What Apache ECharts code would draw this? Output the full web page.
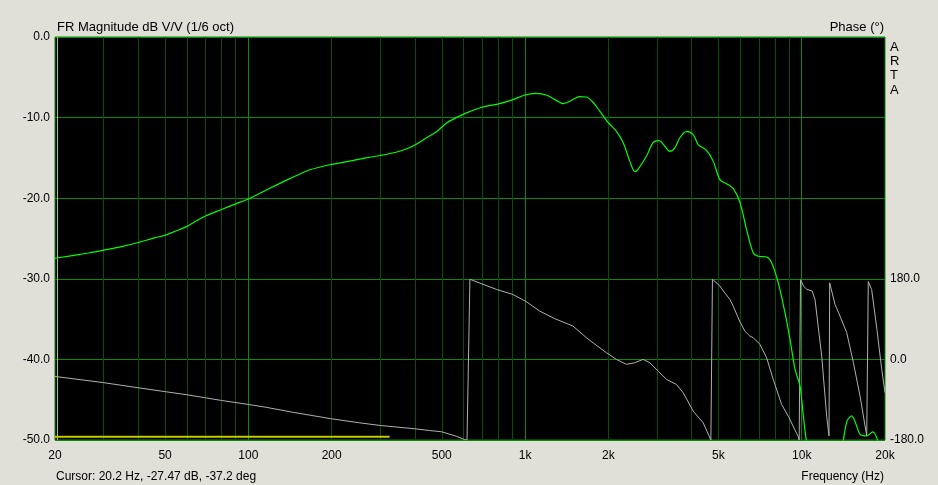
<!DOCTYPE html>
<html>
<head>
<meta charset="utf-8">
<script src="https://cdn.jsdelivr.net/npm/echarts@6/dist/echarts.min.js"></script>
<style>
html,body{margin:0;padding:0;background:#e0dfd8;}
#chart{width:938px;height:485px;}
</style>
</head>
<body>
<div id="chart"></div>
<script>
// ---- data ----
const tickLabelFreqs = [20, 50, 100, 200, 500, 1000, 2000, 5000, 10000, 20000];
const majorGridFreqs = [100, 1000, 10000];
const minorGridFreqs = [30, 40, 50, 60, 70, 80, 90, 200, 300, 400, 500, 600, 700, 800, 900,
                        2000, 3000, 4000, 5000, 6000, 7000, 8000, 9000];
const phaseTickLabels = [-180, 0, 180];

const magFreq = [20, 26.4, 30, 34.8, 40, 46, 50, 54.4, 60, 64.2, 70, 80, 90, 100, 119, 140.6, 166, 200,
  232, 266, 300, 342, 372, 400, 440, 477, 519, 564, 621, 704, 809, 904, 999, 1092, 1194, 1297, 1371,
  1444, 1576, 1666, 1761, 1862, 1996, 2139, 2262, 2391, 2493, 2555, 2746, 2903, 3053, 3201, 3337,
  3479, 3627, 3834, 4053, 4226, 4528, 4787, 5061, 5350, 5656, 5978, 6319, 6681, 6966, 7465, 7783,
  8228, 8699, 9070, 9457, 9858, 10135, 10500, 11500, 12500, 13500, 14140, 14600, 15158, 15700, 16250,
  17180, 18054, 18900, 19500, 20000];
const magDb = [-27.45, -26.8, -26.45, -26.0, -25.5, -24.9, -24.6, -24.1, -23.5, -22.9, -22.2, -21.4,
  -20.7, -20.1, -18.8, -17.6, -16.5, -15.8, -15.4, -15.0, -14.7, -14.3, -13.9, -13.4, -12.5, -11.8,
  -10.7, -10.0, -9.35, -8.68, -8.27, -7.77, -7.2, -6.99, -7.2, -7.86, -8.27, -8.02, -7.4, -7.44,
  -8.1, -9.2, -10.6, -11.7, -13.1, -15.4, -16.7, -16.45, -14.8, -13.1, -12.86, -13.56, -14.2,
  -13.76, -12.5, -11.7, -12.1, -13.35, -14.06, -15.4, -17.7, -18.2, -18.8, -20.5, -23.9, -26.8,
  -27.2, -27.3, -28.0, -30.5, -34.2, -37.5, -41.2, -43.3, -47.0, -51, -56, -58, -54, -50, -47.6,
  -47.0, -48.0, -49.3, -49.5, -49.0, -50.3, -53, -55];

const phaseFreq = [20, 30, 40, 50, 60, 70, 80, 100, 115, 144.5, 200, 252, 300, 400, 452, 500, 564, 604,
  617, 632, 704, 787, 904, 1010, 1129, 1280, 1490, 1666, 1761, 1968, 2139, 2325, 2493, 2671, 2823,
  3027, 3246, 3527, 3729, 4053, 4404, 4695,
  4757, 5061, 5204, 5500, 5656, 5978, 6233, 6497, 6681, 7065, 7465, 7893, 8460, 8945, 9723, 9790,
  9900, 10150, 10420, 10900, 11170, 11810, 12310, 12550, 12620, 13190, 13600, 14540, 15370, 16250,
  17180, 17400, 17900, 18700, 19460, 20000];
const phaseDeg = [-38, -52, -63.4, -72, -79, -85.8, -91.7, -100.6, -106.6, -118, -132.7, -141.6,
  -147.6, -155, -158.8, -161.7, -171.5, -179, -180, 179, 167.7, 156.5, 145, 129, 108, 91, 74.5,
  48.5, 37, 15, 0, -11, -7.4, 0, -7.4, -26, -44.7, -56, -74.5, -115.6, -141.6, -180,
  179, 164, 153, 134, 119, 84, 63, 52, 48.5, 33.5, 4, -45,
  -100.6, -127, -173, -180, 178, 164, 156.5, 153, 134, 7.4, -127, -171, 171, 123, 104, 60, -7, -82,
  -171, 174, 156, 67, -22, -74.5];

const traceFreq = [20, 324];
const traceDb = [-49.6, -49.6];
const cursorFreq = 20.2;

// ---- helpers ----
const L = v => Math.log10(v);
const toPts = (fs, vs) => fs.map((f, i) => [L(f), vs[i]]);
const fmtFreq = v => {
  const f = Math.round(Math.pow(10, v));
  return f >= 1000 ? (f / 1000) + 'k' : String(f);
};

const FONT = 'Liberation Sans, Arial, sans-serif';
const chart = echarts.init(document.getElementById('chart'), null, {renderer: 'canvas'});

const txt = (size) => ({fontSize: size, fontWeight: 'normal', color: '#000', fontFamily: FONT});

chart.setOption({
  animation: false,
  backgroundColor: '#e0dfd8',
  textStyle: {fontFamily: FONT},
  title: [
    {text: 'FR Magnitude dB V/V (1/6 oct)', left: 57, top: 21, padding: 0, textStyle: txt(13)},
    {text: 'Phase (°)', right: 54, top: 21, padding: 0, textStyle: txt(13)},
    {text: 'Cursor: 20.2 Hz, -27.47 dB, -37.2 deg', left: 56, top: 471, padding: 0, textStyle: txt(12)},
    {text: 'Frequency (Hz)', right: 54, top: 471, padding: 0, textStyle: txt(12)}
  ],
  graphic: [
    {type: 'text', left: 890, top: 40,
     style: {text: 'A\nR\nT\nA', font: '13px ' + FONT, fill: '#000', lineHeight: 14.3}}
  ],
  grid: {left: 55, right: 53, top: 37, bottom: 45, show: true,
         backgroundColor: '#000', borderColor: '#0a8a0a', borderWidth: 1},
  xAxis: [
    {type: 'value', min: L(20), max: L(20000), position: 'bottom',
     axisLine: {show: false},
     axisTick: {show: false, customValues: majorGridFreqs.map(L)},
     axisLabel: {customValues: tickLabelFreqs.map(L), formatter: fmtFreq, color: '#000',
                 fontSize: 12, margin: 10, fontFamily: FONT},
     splitLine: {show: true, lineStyle: {color: '#0a8a0a', width: 1}}},
    {type: 'value', min: L(20), max: L(20000), position: 'bottom',
     axisLine: {show: false},
     axisTick: {show: false, customValues: minorGridFreqs.map(L)},
     axisLabel: {show: false},
     splitLine: {show: true, lineStyle: {color: '#064d06', width: 1}}}
  ],
  yAxis: [
    {type: 'value', min: -50, max: 0, interval: 10, position: 'left',
     axisLine: {show: false}, axisTick: {show: false},
     axisLabel: {formatter: v => v.toFixed(1), color: '#000', fontSize: 12, margin: 5, fontFamily: FONT},
     splitLine: {show: true, lineStyle: {color: '#0a8a0a', width: 1}}},
    {type: 'value', min: -180, max: 720, interval: 180, position: 'right',
     axisLine: {show: false}, axisTick: {show: false},
     axisLabel: {customValues: phaseTickLabels, formatter: v => v.toFixed(1), color: '#000',
                 fontSize: 12, margin: 5, fontFamily: FONT},
     splitLine: {show: false}}
  ],
  series: [
    {type: 'line', name: 'trace', xAxisIndex: 0, yAxisIndex: 0, data: toPts(traceFreq, traceDb),
     showSymbol: false, symbol: 'none', lineStyle: {color: '#c8c800', width: 2}, z: 3,
     markLine: {silent: true, symbol: ['none', 'none'], label: {show: false},
                lineStyle: {color: '#c8c800', width: 1, type: 'solid'},
                data: [{xAxis: L(cursorFreq)}]}},
    {type: 'line', name: 'phase', xAxisIndex: 0, yAxisIndex: 1, data: toPts(phaseFreq, phaseDeg),
     showSymbol: false, symbol: 'none',
     lineStyle: {color: '#b0b0b0', width: 1}, z: 4},
    {type: 'line', name: 'magnitude', xAxisIndex: 0, yAxisIndex: 0, data: toPts(magFreq, magDb),
     showSymbol: false, symbol: 'none', smooth: 0.3,
     lineStyle: {color: '#00ff00', width: 1.2}, z: 5}
  ]
});
</script>
</body>
</html>
